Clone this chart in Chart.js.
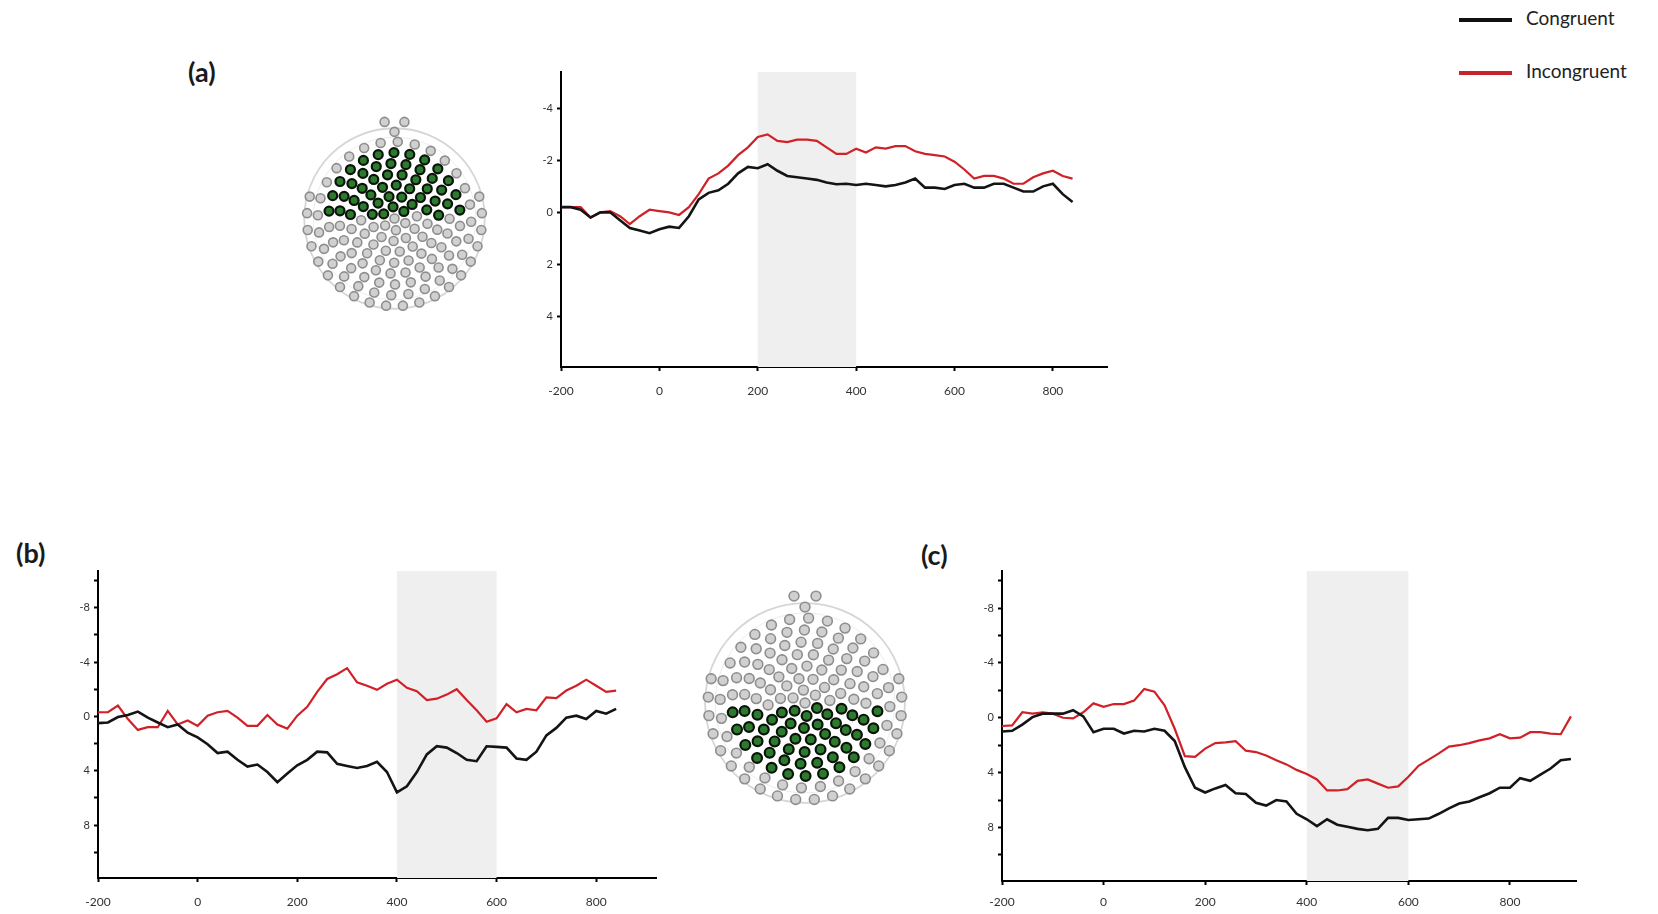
<!DOCTYPE html>
<html>
<head>
<meta charset="utf-8">
<script src="https://cdn.jsdelivr.net/npm/chart.js@4"></script>
<style>
  body { margin: 0; width: 1658px; height: 914px; background: #fff; position: relative; overflow: hidden; font-family: Lato, "Open Sans", sans-serif; }
  canvas { position: absolute; }
  .panel-label { position: absolute; font-weight: bold; font-size: 27px; color: #1a1a1a; line-height: 1; }
  .legend-row { position: absolute; left: 1459px; font-size: 19px; color: #222; line-height: 1; white-space: nowrap; }
  .legend-row .swatch { display: inline-block; width: 53px; height: 4px; vertical-align: middle; margin-right: 14px; }
</style>
</head>
<body>

<div class="panel-label" style="left:188px; top:58px;">(a)</div>
<div class="panel-label" style="left:16px; top:539px;">(b)</div>
<div class="panel-label" style="left:921px; top:541px;">(c)</div>

<div class="legend-row" style="top:8px;"><span class="swatch" style="background:#111;"></span>Congruent</div>
<div class="legend-row" style="top:61px;"><span class="swatch" style="background:#c8232a;"></span>Incongruent</div>

<canvas id="headA" width="221" height="221" style="left:284px; top:108px;"></canvas>
<canvas id="ergA" width="620" height="340" style="left:500px; top:60px;"></canvas>
<canvas id="ergB" width="630" height="354" style="left:40px; top:560px;"></canvas>
<canvas id="headB" width="244" height="244" style="left:683px; top:581px;"></canvas>
<canvas id="ergC" width="645" height="354" style="left:945px; top:560px;"></canvas>

<script>
// time points (ms)
var timesAB = [-200, -180, -160, -140, -120, -100, -80, -60, -40, -20, 0, 20, 40, 60, 80, 100, 120, 140, 160, 180,
  200, 220, 240, 260, 280, 300, 320, 340, 360, 380, 400, 420, 440, 460, 480, 500, 520, 540, 560, 580,
  600, 620, 640, 660, 680, 700, 720, 740, 760, 780, 800, 820, 840];
var timesC = [-200, -180, -160, -140, -120, -100, -80, -60, -40, -20, 0, 20, 40, 60, 80, 100, 120, 140, 160, 180,
  200, 220, 240, 260, 280, 300, 320, 340, 360, 380, 400, 420, 440, 460, 480, 500, 520, 540, 560, 580,
  600, 620, 640, 660, 680, 700, 720, 740, 760, 780, 800, 820, 840, 860, 880, 900, 920];

// amplitudes (µV), negative plotted upward
var congruentA = [-0.2, -0.2, -0.1, 0.2, 0, 0, 0.3, 0.6, 0.7, 0.8, 0.65, 0.55, 0.6, 0.15, -0.5, -0.75, -0.85, -1.1, -1.5, -1.75,
  -1.7, -1.85, -1.6, -1.4, -1.35, -1.3, -1.25, -1.15, -1.08, -1.1, -1.05, -1.1, -1.05, -1.0, -1.05, -1.15, -1.3, -0.95, -0.95, -0.9,
  -1.05, -1.1, -0.95, -0.95, -1.1, -1.1, -0.95, -0.8, -0.8, -1.0, -1.1, -0.7, -0.4];
var incongruentA = [-0.2, -0.2, -0.2, 0.2, 0, -0.05, 0.15, 0.45, 0.15, -0.1, -0.05, 0, 0.1, -0.2, -0.7, -1.3, -1.5, -1.8, -2.2, -2.5,
  -2.9, -3.0, -2.75, -2.7, -2.8, -2.8, -2.75, -2.5, -2.25, -2.25, -2.45, -2.3, -2.5, -2.45, -2.55, -2.55, -2.35, -2.25, -2.2, -2.15,
  -1.95, -1.65, -1.3, -1.4, -1.4, -1.3, -1.1, -1.1, -1.35, -1.5, -1.6, -1.4, -1.3];

var congruentB = [0.5, 0.45, 0.05, -0.1, -0.35, 0.1, 0.45, 0.8, 0.6, 1.2, 1.55, 2.05, 2.7, 2.6, 3.2, 3.7, 3.55, 4.1, 4.85, 4.2,
  3.6, 3.2, 2.6, 2.65, 3.5, 3.65, 3.8, 3.65, 3.35, 4.1, 5.6, 5.15, 4.1, 2.8, 2.2, 2.3, 2.7, 3.2, 3.3, 2.2,
  2.25, 2.3, 3.1, 3.2, 2.6, 1.4, 0.85, 0.1, -0.05, 0.2, -0.4, -0.2, -0.55];
var incongruentB = [-0.3, -0.3, -0.8, 0.2, 1.0, 0.8, 0.8, -0.4, 0.6, 0.3, 0.7, -0.05, -0.3, -0.4, 0.1, 0.7, 0.7, -0.1, 0.6, 0.9,
  -0.05, -0.7, -1.8, -2.75, -3.1, -3.55, -2.5, -2.25, -1.95, -2.4, -2.7, -2.1, -1.85, -1.2, -1.3, -1.6, -2.0, -1.2, -0.45, 0.4,
  0.15, -0.9, -0.3, -0.55, -0.45, -1.4, -1.35, -1.9, -2.25, -2.7, -2.25, -1.8, -1.9];

var congruentC = [1.0, 0.95, 0.5, -0.05, -0.3, -0.3, -0.3, -0.55, -0.1, 1.05, 0.8, 0.8, 1.15, 0.95, 1.0, 0.8, 0.95, 1.7, 3.6, 5.1,
  5.45, 5.15, 4.9, 5.5, 5.55, 6.2, 6.4, 6.0, 6.1, 7.0, 7.4, 7.9, 7.4, 7.8, 7.95, 8.1, 8.2, 8.1, 7.3, 7.3,
  7.45, 7.4, 7.35, 7.0, 6.6, 6.25, 6.1, 5.8, 5.5, 5.1, 5.1, 4.4, 4.6, 4.15, 3.7, 3.1, 3.0];
var incongruentC = [0.6, 0.55, -0.4, -0.3, -0.4, -0.3, 0.0, 0.05, -0.4, -1.05, -0.8, -1.0, -1.0, -1.25, -2.1, -1.9, -0.9, 0.8, 2.8, 2.85,
  2.25, 1.85, 1.8, 1.7, 2.4, 2.5, 2.75, 3.1, 3.4, 3.8, 4.1, 4.5, 5.3, 5.3, 5.2, 4.6, 4.5, 4.8, 5.1, 5.0,
  4.3, 3.5, 3.05, 2.6, 2.1, 2.0, 1.85, 1.65, 1.5, 1.2, 1.5, 1.45, 1.05, 1.05, 1.15, 1.2, -0.1];

// analysis windows (ms)
var windowA = [200, 400];
var windowB = [400, 600];
var windowC = [400, 600];

// electrode montage: concentric rings (radius as fraction of head radius)
var ringRadius = [0, 0.13, 0.25, 0.37, 0.49, 0.61, 0.73, 0.85, 0.97];
var ringCount  = [1, 6, 11, 15, 19, 23, 26, 28, 20];
var ringSpan   = [360, 360, 360, 360, 360, 360, 360, 360, 220];
var noseSites  = [[-0.11, 1.07], [0.11, 1.07], [0, 0.96]];

var BLACK = '#141414';
var RED = '#cf2127';

function pairs(xs, ys) {
  return xs.map(function (t, i) { return { x: t, y: ys[i] }; });
}

var shadePlugin = {
  id: 'shade',
  beforeDatasetsDraw: function (chart, args, opts) {
    var x = chart.scales.x, area = chart.chartArea, ctx = chart.ctx;
    var x0 = x.getPixelForValue(opts.from), x1 = x.getPixelForValue(opts.to);
    ctx.save();
    ctx.fillStyle = '#efefef';
    ctx.fillRect(x0, area.top, x1 - x0, area.bottom - area.top);
    ctx.restore();
  }
};

function ergChart(id, cfg) {
  var yTicks = cfg.yTicks;
  return new Chart(document.getElementById(id), {
    type: 'line',
    data: {
      datasets: [
        { label: 'Congruent', data: pairs(cfg.times, cfg.congruent), borderColor: BLACK, borderWidth: 2.6 },
        { label: 'Incongruent', data: pairs(cfg.times, cfg.incongruent), borderColor: RED, borderWidth: 2.2 }
      ]
    },
    options: {
      responsive: false,
      animation: false,
      events: [],
      layout: { padding: { top: cfg.padTop, right: cfg.padRight, left: 0, bottom: 0 } },
      elements: { point: { radius: 0 }, line: { tension: 0 } },
      plugins: {
        legend: { display: false },
        tooltip: { enabled: false },
        shade: { from: cfg.window[0], to: cfg.window[1] }
      },
      scales: {
        x: {
          type: 'linear',
          min: cfg.xMin, max: cfg.xMax,
          afterFit: function (s) { s.height = cfg.xHeight; },
          border: { color: '#000', width: 2 },
          grid: { drawOnChartArea: false, tickLength: 4, tickColor: '#000', tickWidth: 2 },
          ticks: {
            stepSize: 200, includeBounds: false, padding: cfg.xPad, maxRotation: 0,
            color: '#333', font: { size: 12, family: 'Lato' }
          }
        },
        y: {
          reverse: true,
          min: cfg.yMin, max: cfg.yMax,
          afterFit: function (s) { s.width = cfg.yWidth; },
          border: { color: '#000', width: 2 },
          grid: { drawOnChartArea: false, tickLength: 4, tickColor: '#000', tickWidth: 2 },
          ticks: {
            stepSize: 2, includeBounds: false, padding: 4,
            color: '#333', font: { size: 11, family: 'Lato' },
            callback: function (v) { return yTicks.indexOf(v) >= 0 ? String(v) : ''; }
          }
        }
      }
    },
    plugins: [shadePlugin]
  });
}

ergChart('ergA', {
  times: timesAB, congruent: congruentA, incongruent: incongruentA, window: windowA,
  xMin: -200, xMax: 910, yMin: -5.4, yMax: 5.95, yTicks: [-4, -2, 0, 2, 4],
  padTop: 12, padRight: 13, yWidth: 61, xHeight: 33, xPad: 13
});
ergChart('ergB', {
  times: timesAB, congruent: congruentB, incongruent: incongruentB, window: windowB,
  xMin: -200, xMax: 920, yMin: -10.7, yMax: 11.9, yTicks: [-8, -4, 0, 4, 8],
  padTop: 11, padRight: 14, yWidth: 58, xHeight: 36, xPad: 13
});
ergChart('ergC', {
  times: timesC, congruent: congruentC, incongruent: incongruentC, window: windowC,
  xMin: -200, xMax: 930, yMin: -10.7, yMax: 11.9, yTicks: [-8, -4, 0, 4, 8],
  padTop: 11, padRight: 14, yWidth: 57, xHeight: 33, xPad: 10
});

// head maps
function montage(isSelected) {
  var pts = [];
  ringRadius.forEach(function (r, k) {
    var n = ringCount[k], span = ringSpan[k];
    for (var i = 0; i < n; i++) {
      var deg;
      if (span === 360) deg = 90 + k * 7 + 360 * i / n;
      else deg = 270 - span / 2 + span * (i + 0.5) / n;
      var a = deg * Math.PI / 180;
      var x = r * Math.cos(a), y = r * Math.sin(a);
      pts.push({ x: x, y: y, sel: isSelected(x, y, r) });
    }
  });
  noseSites.forEach(function (p) { pts.push({ x: p[0], y: p[1], sel: false }); });
  return pts;
}

var outlinePlugin = {
  id: 'outline',
  beforeDatasetsDraw: function (chart) {
    var sx = chart.scales.x, sy = chart.scales.y, ctx = chart.ctx;
    var cx = sx.getPixelForValue(0), cy = sy.getPixelForValue(0);
    var r = sx.getPixelForValue(1) - cx;
    ctx.save();
    ctx.strokeStyle = '#d6d6d6';
    ctx.lineWidth = 1.8;
    ctx.beginPath();
    ctx.arc(cx, cy, r, 0, Math.PI * 2);
    ctx.stroke();
    ctx.strokeStyle = '#ececec';
    ctx.lineWidth = 1;
    ctx.beginPath();
    ctx.arc(cx, cy, r * 0.9, 0, Math.PI * 2);
    ctx.stroke();
    ctx.restore();
  }
};

function headChart(id, pts, dotRadius) {
  return new Chart(document.getElementById(id), {
    type: 'scatter',
    data: {
      datasets: [{
        data: pts,
        pointRadius: dotRadius,
        pointBorderWidth: function (c) { return c.raw && c.raw.sel ? 2.2 : 1.6; },
        pointBackgroundColor: function (c) { return c.raw && c.raw.sel ? '#2b7a2e' : '#d0d0d0'; },
        pointBorderColor: function (c) { return c.raw && c.raw.sel ? '#0a140a' : '#8e8e8e'; }
      }]
    },
    options: {
      responsive: false,
      animation: false,
      events: [],
      layout: { padding: 0 },
      plugins: { legend: { display: false }, tooltip: { enabled: false } },
      scales: {
        x: { display: false, min: -1.15, max: 1.15 },
        y: { display: false, min: -1.15, max: 1.15 }
      }
    },
    plugins: [outlinePlugin]
  });
}

headChart('headA', montage(function (x, y, r) { return y > 0.03 && r < 0.8; }), 4.5);
headChart('headB', montage(function (x, y, r) { return y < -0.03 && r < 0.8; }), 4.9);
</script>
</body>
</html>
